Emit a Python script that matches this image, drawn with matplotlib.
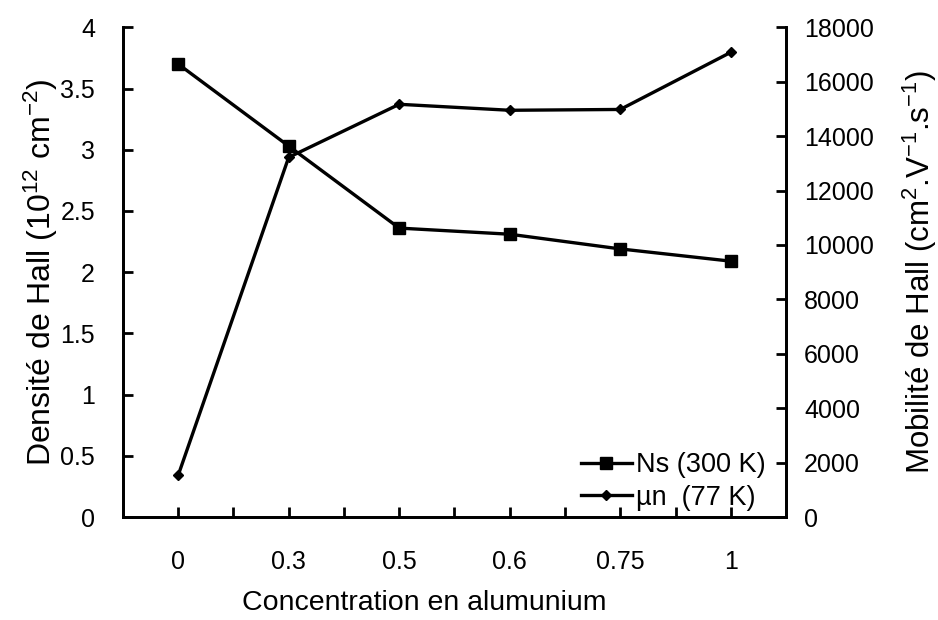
import matplotlib.pyplot as plt
import numpy as np

plt.rcParams['font.family'] = ['Liberation Sans', 'DejaVu Sans']
plt.rcParams['mathtext.default'] = 'regular'
plt.rcParams['axes.unicode_minus'] = False

concentrations = ['0', '0.3', '0.5', '0.6', '0.75', '1']
ns_300k = [3.70, 3.03, 2.36, 2.31, 2.19, 2.09]
mu_77k = [1530, 13220, 15170, 14950, 14980, 17080]

x = np.arange(len(concentrations))

fig = plt.figure(figsize=(9.38, 6.2), dpi=100)
ax = fig.add_axes([0.131, 0.166, 0.707, 0.790])
ax2 = ax.twinx()

l1, = ax.plot(x, ns_300k, color='black', lw=2.4, marker='s', ms=8,
              label='Ns (300 K)')
l2, = ax2.plot(x, mu_77k, color='black', lw=2.4, marker='D', ms=5,
               label='µn  (77 K)')

ax.set_xlim(-0.5, 5.5)
ax.set_ylim(0, 4)
ax2.set_ylim(0, 18000)

ax.set_xticks(x)
ax.set_xticklabels(concentrations)
ax.set_xticks(np.arange(0, 5.01, 0.5), minor=True)
ax.set_yticks(np.arange(0, 4.01, 0.5))
ax.set_yticklabels(['0', '0.5', '1', '1.5', '2', '2.5', '3', '3.5', '4'])
ax2.set_yticks(np.arange(0, 18001, 2000))

for a in (ax, ax2):
    a.spines['top'].set_visible(False)
    for s in a.spines.values():
        s.set_linewidth(2)
    a.tick_params(direction='in', length=7, width=2, labelsize=18)
    a.tick_params(which='minor', direction='in', length=7, width=2)
ax.tick_params(axis='x', pad=24)
ax.tick_params(axis='y', pad=20)
ax2.tick_params(axis='y', pad=13)

ax.set_xlabel('Concentration en alumunium', fontsize=20.5)
ax.xaxis.set_label_coords(0.455, -0.148)
ax.set_ylabel('Densité de Hall (10$^{12}$ cm$^{-2}$)', fontsize=23, labelpad=0)
ax2.set_ylabel('Mobilité de Hall (cm$^{2}$.V$^{-1}$.s$^{-1}$)', fontsize=22.5,
               labelpad=19)

ax2.legend(handles=[l1, l2], loc='lower right', frameon=False, fontsize=19.5,
           bbox_to_anchor=(0.99, -0.015), borderpad=0, handlelength=1.9,
           handletextpad=0.15, labelspacing=0.25)

fig.savefig('out.png', dpi=100)
